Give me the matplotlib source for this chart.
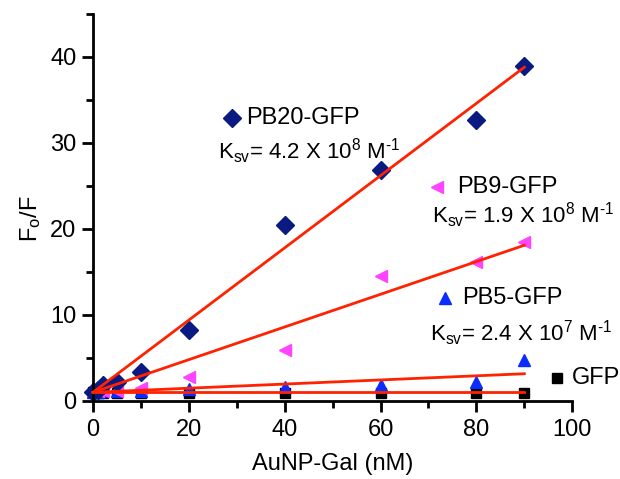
import numpy as np
import matplotlib
matplotlib.use("Agg")
import matplotlib.pyplot as plt

plt.rcParams['font.family'] = ['Liberation Sans', 'DejaVu Sans']
plt.rcParams['mathtext.fontset'] = 'custom'
plt.rcParams['mathtext.rm'] = 'Liberation Sans'
plt.rcParams['mathtext.it'] = 'Liberation Sans'

# AuNP-Gal concentration (nM)
conc = [0, 1, 2, 5, 10, 20, 40, 60, 80, 90]

# Fo/F for each polymer-GFP complex
pb20 = [1.0, 1.3, 1.8, 2.2, 3.4, 8.3, 20.5, 26.9, 32.7, 38.9]
pb9 = [1.0, 1.1, 1.1, 1.2, 1.5, 2.8, 5.9, 14.5, 16.2, 18.5]
pb5 = [1.0, 1.0, 1.1, 1.1, 1.2, 1.4, 1.6, 1.8, 2.2, 4.8]
gfp = [1.0, 0.9, 0.9, 0.9, 0.9, 0.9, 0.9, 0.9, 0.9, 0.9]

# Stern-Volmer constants, nM^-1 (x 1e9 -> M^-1)
ksv = {'PB20': 0.42, 'PB9': 0.19, 'PB5': 0.024, 'GFP': 0.0}

fig = plt.figure(figsize=(6.2, 4.79), dpi=100)
ax = fig.add_axes([0.150, 0.163, 0.773, 0.808])

red = '#ff2200'
fit_x = np.array([0, 90])
for key in ['PB20', 'PB9', 'PB5', 'GFP']:
    ax.plot(fit_x, 1 + ksv[key] * fit_x, color=red, lw=2, zorder=3, clip_on=False)

ax.plot(conc, gfp, 's', color='black', ms=6.5, ls='none', clip_on=False, zorder=2)
ax.plot(conc, pb5, '^', color='#0a2cff', ms=9, ls='none', clip_on=False, zorder=2)
ax.plot(conc, pb9, '<', color='#ff44ff', ms=9, ls='none', clip_on=False, zorder=2)
ax.plot(conc, pb20, 'D', color='#0a1a80', ms=9, ls='none', clip_on=False, zorder=2)

ax.set_xlim(0, 100)
ax.set_ylim(0, 45)
ax.set_xticks(range(0, 101, 20))
ax.set_xticks(range(0, 101, 10), minor=True)
ax.set_yticks(range(0, 41, 10))
ax.set_yticks(range(0, 46, 5), minor=True)
ax.spines['top'].set_visible(False)
ax.spines['right'].set_visible(False)
for s in ['left', 'bottom']:
    ax.spines[s].set_linewidth(2)
ax.tick_params(which='major', length=8, width=2, labelsize=17, direction='out')
ax.tick_params(which='minor', length=5, width=2, direction='out')
ax.tick_params(axis='x', pad=5)
ax.tick_params(axis='y', pad=4)

ax.set_xlabel('AuNP-Gal (nM)', fontsize=17, labelpad=9)
ax.set_ylabel(r'$\mathregular{F_o/F}$', fontsize=17, labelpad=12)
ax.yaxis.set_label_coords(-0.105, 0.47)

fs = 17


def ksv_label(value, exp):
    return (r'$\mathregular{K_{sv}}$= ' + value + r' X 10$\mathregular{^' + exp +
            r'}$ M$\mathregular{^{\text{-}1}}$')


# annotations: legend marker + name + Ksv
ax.plot(29, 32.9, 'D', color='#0a1a80', ms=9, clip_on=False)
ax.text(32, 32.9, 'PB20-GFP', fontsize=fs, va='center')
ax.text(26, 29.0, ksv_label('4.2', '8'), fontsize=16, va='center')

ax.plot(71.8, 24.9, '<', color='#ff44ff', ms=9, clip_on=False)
ax.text(76, 24.9, 'PB9-GFP', fontsize=fs, va='center')
ax.text(70.7, 21.6, ksv_label('1.9', '8'), fontsize=16, va='center')

ax.plot(73.4, 12.0, '^', color='#0a2cff', ms=9, clip_on=False)
ax.text(77, 12.0, 'PB5-GFP', fontsize=fs, va='center')
ax.text(70.3, 7.9, ksv_label('2.4', '7'), fontsize=16, va='center')

ax.plot(96.8, 2.7, 's', color='black', ms=6.5, clip_on=False)
ax.text(100, 2.7, 'GFP', fontsize=fs, va='center')

fig.savefig('out.png', dpi=100)
